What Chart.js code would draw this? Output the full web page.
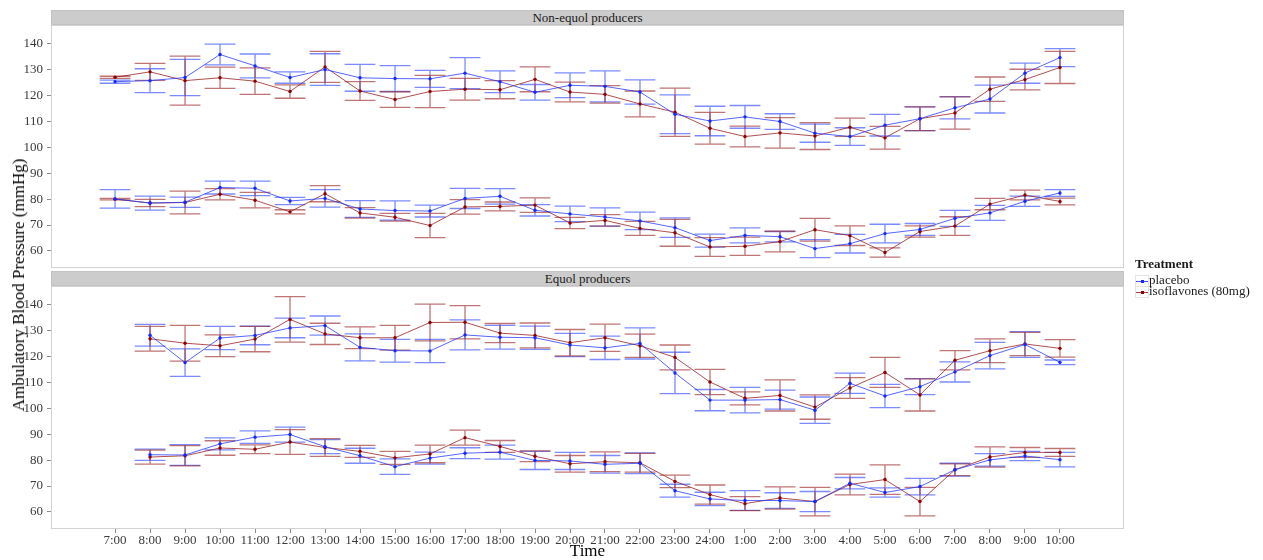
<!DOCTYPE html>
<html>
<head>
<meta charset="utf-8">
<title>Ambulatory Blood Pressure</title>
<script src="https://cdn.jsdelivr.net/npm/chart.js@4.4.1/dist/chart.umd.min.js"></script>
<style>
  html, body { margin: 0; padding: 0; background: #ffffff; }
  #wrap { position: relative; width: 1263px; height: 560px; overflow: hidden;
          font-family: "Liberation Serif", "Times New Roman", serif; color: #1a1a1a; }
  #wrap canvas { position: absolute; left: 0; top: 0; }
  .strip { position: absolute; left: 51px; width: 1071px; height: 13px; background: #cccccc;
           border: 1px solid #c2c2c2; font-size: 13px; line-height: 13px; text-align: center; color: #1a1a1a; }
  #ytitle { position: absolute; left: 19px; top: 285px; transform: translate(-50%, -50%) rotate(-90deg);
            white-space: nowrap; font-size: 17px; color: #000; }
  #legend { position: absolute; left: 1135px; top: 256px; font-size: 13px; }
  #legend .head { position: absolute; left: 0; top: 0; font-weight: bold; line-height: 15px; white-space: nowrap; }
  #legend .item { position: absolute; left: 0; height: 11px; white-space: nowrap; }
  #legend .key { position: absolute; left: 0; top: 0; width: 12px; height: 10px; border: 1px solid #e4e4e4; background: #fff; }
  #legend .key .ln { position: absolute; left: 0; right: 0; top: 5px; height: 1px; }
  #legend .key .pt { position: absolute; left: 5px; top: 4px; width: 3px; height: 3px; }
  #legend .lbl { position: absolute; left: 14px; top: -3px; line-height: 15px; }
</style>
</head>
<body>
<div id="wrap">
  <canvas id="nonEquol" width="1263" height="560"></canvas>
  <canvas id="equol" width="1263" height="560"></canvas>
  <div class="strip" style="top:10px">Non-equol producers</div>
  <div class="strip" style="top:271px">Equol producers</div>
  <div id="ytitle">Ambulatory Blood Pressure (mmHg)</div>
  <div id="legend">
    <div class="head">Treatment</div>
    <div class="item" style="top:19px">
      <span class="key"><span class="ln" style="background:rgba(30,50,255,0.8)"></span><span class="pt" style="background:#1428ff"></span></span>
      <span class="lbl">placebo</span>
    </div>
    <div class="item" style="top:30px">
      <span class="key"><span class="ln" style="background:rgba(150,20,20,0.8)"></span><span class="pt" style="background:#8b0000"></span></span>
      <span class="lbl">isoflavones (80mg)</span>
    </div>
  </div>
</div>
<script>
// Hour of measurement, 7:00 through 10:00 of the following morning
const times = ['7:00','8:00','9:00','10:00','11:00','12:00','13:00','14:00','15:00','16:00',
  '17:00','18:00','19:00','20:00','21:00','22:00','23:00','24:00','1:00','2:00','3:00',
  '4:00','5:00','6:00','7:00','8:00','9:00','10:00'];
const yTicks = [60, 70, 80, 90, 100, 110, 120, 130, 140];

// Non-equol producers: hourly means and error-bar half widths (mmHg)
const nonEqPlaceboSys = [125.4,125.8,127.0,135.9,131.5,127.0,130.1,126.9,126.6,126.5,128.7,125.4,121.3,124.0,123.6,121.4,112.8,110.2,111.8,110.0,105.5,104.2,108.6,111.1,115.3,118.7,128.7,134.7];
const nonEqPlaceboSysErr = [0.6,4.6,7.0,4.0,4.6,2.2,6.1,5.2,5.0,3.3,6.0,4.2,3.0,4.8,6.0,4.7,7.5,5.7,4.4,3.0,3.5,3.4,4.2,4.6,4.3,5.4,3.9,3.5];
const nonEqIsoSys = [127.1,129.2,125.8,126.9,125.6,121.6,131.1,121.8,118.5,121.6,122.5,122.3,126.3,121.4,120.5,116.8,113.6,107.4,104.2,105.6,104.4,107.8,103.7,111.1,113.3,122.5,126.2,130.9];
const nonEqIsoSysErr = [0.4,3.3,9.5,4.1,5.1,2.6,6.0,3.6,3.0,6.2,4.2,3.5,4.8,3.8,3.4,5.0,9.3,6.1,4.0,5.9,5.2,3.5,4.4,4.6,6.2,4.7,4.0,6.2];
const nonEqPlaceboDia = [80.1,78.5,78.8,84.5,84.2,79.3,80.3,76.2,75.6,75.4,80.3,81.1,75.7,74.3,73.1,71.6,69.0,64.0,66.0,65.5,60.9,62.8,66.7,68.3,72.6,74.7,79.2,82.4];
const nonEqPlaceboDiaErr = [3.6,2.7,2.0,2.5,2.8,1.4,3.4,3.2,3.7,2.3,3.9,3.0,2.2,3.0,3.5,3.4,3.8,2.5,2.9,2.0,3.5,3.6,3.6,2.3,3.1,2.9,2.0,1.3];
const nonEqIsoDia = [80.0,78.5,78.7,81.9,79.6,75.1,82.1,74.7,73.0,69.8,77.0,77.2,77.7,70.8,71.8,68.7,67.0,61.5,61.8,63.6,68.2,65.9,59.4,67.5,69.6,78.1,81.6,79.1];
const nonEqIsoDiaErr = [0.3,1.4,4.4,2.2,3.0,0.8,3.1,2.0,1.5,4.7,2.8,1.7,2.8,2.2,2.2,2.7,5.2,3.6,3.5,4.0,4.4,3.8,1.8,2.2,3.6,2.2,1.9,1.3];

// Equol producers (no reading at the first 7:00)
const eqPlaceboSys = [null,128.3,117.7,127.2,128.2,131.1,132.0,123.6,122.3,122.2,128.4,127.5,127.3,124.5,123.4,125.1,113.7,103.2,103.2,103.4,99.3,109.7,104.8,108.4,114.1,120.4,124.7,117.8];
const eqPlaceboSysErr = [null,4.2,5.3,4.5,3.6,3.8,3.7,5.2,4.4,4.5,5.8,4.6,4.5,4.5,4.5,6.0,8.0,4.1,4.9,3.7,5.1,3.9,4.5,3.1,3.9,5.1,5.0,0.9];
const eqIsoSys = [null,126.9,125.2,124.2,126.8,134.4,128.8,127.3,127.3,133.2,133.3,129.1,128.2,125.4,127.3,124.2,119.7,110.2,103.9,105.0,100.5,107.9,113.9,105.2,118.6,122.3,124.9,123.2];
const eqIsoSysErr = [null,4.8,6.9,4.2,4.9,8.8,4.1,4.2,4.8,7.1,6.4,3.7,4.8,5.1,5.3,4.5,4.8,4.9,2.5,6.0,4.7,4.0,5.8,6.2,3.7,4.6,4.5,3.4];
const eqPlaceboDia = [null,82.1,82.0,86.3,88.9,89.9,85.2,81.7,77.5,80.8,82.7,83.1,79.9,79.7,78.4,78.8,68.2,65.0,64.4,64.4,64.0,71.1,67.5,69.8,76.3,80.1,81.6,80.2];
const eqPlaceboDiaErr = [null,2.2,4.0,2.3,2.4,2.9,2.7,2.9,3.0,2.3,2.1,2.7,3.5,3.3,3.4,4.0,2.5,2.6,3.8,3.0,3.9,2.2,1.8,3.2,2.5,2.4,1.8,2.8];
const eqIsoDia = [null,81.2,81.7,84.7,84.2,87.0,84.9,83.4,80.9,82.4,88.7,85.3,81.5,78.6,79.4,79.0,71.8,66.7,63.2,65.4,64.0,70.6,72.5,64.0,76.3,81.2,83.0,83.0];
const eqIsoDiaErr = [null,2.7,3.9,2.8,1.7,4.8,3.4,2.3,2.5,3.4,2.9,2.3,2.1,3.2,3.8,3.6,2.4,3.7,2.7,4.3,5.5,4.0,5.7,5.5,2.3,3.9,1.9,1.5];

const FONT = '"Liberation Serif", "Times New Roman", serif';
const PLACEBO = { line: 'rgba(30,50,255,0.75)', point: '#1428ff', err: 'rgba(40,70,255,0.62)' };
const ISO = { line: 'rgba(150,20,20,0.75)', point: '#8b0000', err: 'rgba(150,25,25,0.6)' };

function series(values, errs, style) {
  return {
    data: values.map((v, i) => ({ x: i, y: v })),
    err: errs,
    errColor: style.err,
    borderColor: style.line,
    backgroundColor: style.point,
    pointBackgroundColor: style.point,
    pointBorderColor: style.point,
    borderWidth: 1,
    pointRadius: 1.7,
    pointBorderWidth: 0,
    tension: 0,
    spanGaps: false
  };
}

// Vertical error bars with caps, drawn beneath the lines and points
const errorBars = {
  id: 'errorBars',
  beforeDatasetsDraw(chart) {
    const { ctx, scales: { x, y } } = chart;
    ctx.save();
    ctx.lineWidth = 1.3;
    chart.data.datasets.forEach(ds => {
      ctx.strokeStyle = ds.errColor;
      ds.data.forEach((p, i) => {
        if (p.y == null) return;
        const e = ds.err[i];
        const px = x.getPixelForValue(i);
        const half = x.getPixelForValue(i + 0.44) - px;
        const top = y.getPixelForValue(p.y + e);
        const bot = y.getPixelForValue(p.y - e);
        ctx.beginPath();
        ctx.moveTo(px, top); ctx.lineTo(px, bot);
        ctx.moveTo(px - half, top); ctx.lineTo(px + half, top);
        ctx.moveTo(px - half, bot); ctx.lineTo(px + half, bot);
        ctx.stroke();
      });
    });
    ctx.restore();
  }
};

// Light panel frame around the plotting area
const panelFrame = {
  id: 'panelFrame',
  afterDraw(chart) {
    const { ctx, chartArea: a } = chart;
    ctx.save();
    ctx.strokeStyle = '#d2d2d2';
    ctx.lineWidth = 1;
    ctx.strokeRect(a.left + 0.5, a.top + 0.5, a.right - a.left - 1, a.bottom - a.top - 1);
    ctx.restore();
  }
};

function makePanel(id, datasets, top, bottom, showX) {
  return new Chart(document.getElementById(id), {
    type: 'line',
    data: { datasets },
    plugins: [errorBars, panelFrame],
    options: {
      responsive: false,
      animation: false,
      devicePixelRatio: 1,
      layout: { padding: { left: 0, right: 139, top: top, bottom: bottom } },
      plugins: { legend: { display: false }, tooltip: { enabled: false } },
      scales: {
        x: {
          type: 'linear',
          display: showX,
          min: -1.83,
          max: 28.83,
          bounds: 'data',
          afterBuildTicks: s => { s.ticks = times.map((t, i) => ({ value: i })); },
          afterFit: s => { s.height = showX ? 31 : 0; s.paddingLeft = 0; s.paddingRight = 0; },
          border: { display: false },
          grid: { display: true, drawOnChartArea: false, drawTicks: true, tickLength: 4, color: '#8c8c8c' },
          ticks: {
            autoSkip: false, maxRotation: 0, minRotation: 0, padding: 0,
            color: '#3a3a3a', font: { family: FONT, size: 13 },
            callback: (v, i) => times[i]
          },
          title: {
            display: showX, text: 'Time', color: '#000',
            font: { family: FONT, size: 17, lineHeight: 1 }, padding: { top: 0, bottom: 0 }
          }
        },
        y: {
          min: 53.4,
          max: 147.3,
          afterBuildTicks: s => { s.ticks = yTicks.map(v => ({ value: v })); },
          afterFit: s => { s.width = 51; s.paddingTop = 0; s.paddingBottom = 0; },
          border: { display: false },
          grid: { display: true, drawOnChartArea: false, drawTicks: true, tickLength: 4, color: '#8c8c8c' },
          ticks: { padding: 4, color: '#3a3a3a', font: { family: FONT, size: 13 } }
        }
      }
    }
  });
}

makePanel('nonEquol', [
  series(nonEqPlaceboSys, nonEqPlaceboSysErr, PLACEBO),
  series(nonEqPlaceboDia, nonEqPlaceboDiaErr, PLACEBO),
  series(nonEqIsoSys, nonEqIsoSysErr, ISO),
  series(nonEqIsoDia, nonEqIsoDiaErr, ISO)
], 25, 292, false);

makePanel('equol', [
  series(eqPlaceboSys, eqPlaceboSysErr, PLACEBO),
  series(eqPlaceboDia, eqPlaceboDiaErr, PLACEBO),
  series(eqIsoSys, eqIsoSysErr, ISO),
  series(eqIsoDia, eqIsoDiaErr, ISO)
], 286, 0, true);
</script>
</body>
</html>
